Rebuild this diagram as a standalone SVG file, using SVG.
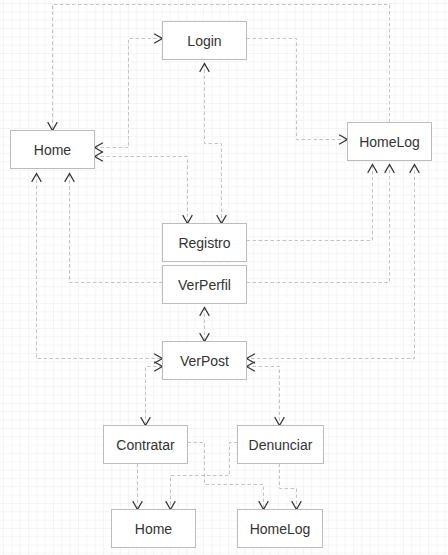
<svg xmlns="http://www.w3.org/2000/svg" width="448" height="555" viewBox="0 0 448 555">
<defs>
<pattern id="grid" patternUnits="userSpaceOnUse" x="3" y="3" width="8.333" height="8.333">
<path d="M0.5 0 V8.333 M0 0.5 H8.333" fill="none" stroke="#f4f4f4" stroke-width="1"/>
</pattern>
<marker id="arr" markerUnits="userSpaceOnUse" markerWidth="12" markerHeight="12" viewBox="-8 -5 9 10" refX="0" refY="0" orient="auto-start-reverse" overflow="visible">
<path d="M-7,-4 L0,0 L-7,4" fill="none" stroke="#333" stroke-width="1" stroke-dasharray="none"/>
</marker>
<style>
.box{fill:#fff;stroke:#bcbcbc;stroke-width:1}
.lbl{font-family:"Liberation Sans",Arial,sans-serif;font-size:14px;fill:#333;text-anchor:middle}
.c{fill:none;stroke:#c4c4c4;stroke-width:1;stroke-dasharray:3.5 2.5}
.e{marker-end:url(#arr)}
.s{marker-start:url(#arr)}
</style>
</defs>
<rect x="0" y="0" width="448" height="555" fill="#fff"/>
<rect x="0" y="0" width="448" height="555" fill="url(#grid)"/>
<g id="connectors">
<path class="c e" d="M389.5 122.5 V4.5 H52.5 V130.5"/>
<path class="c s e" d="M94.5 147.5 H128.5 V38.5 H162.5"/>
<path class="c s e" d="M94.5 156.5 H187.5 V223.5"/>
<path class="c e" d="M246.5 38.5 H296.5 V139.5 H347.5"/>
<path class="c s e" d="M204.5 63.5 V143.5 H221.5 V223.5"/>
<path class="c s e" d="M36.5 173.5 V358.5 H162.5"/>
<path class="c e" d="M162.5 282.5 H69.5 V173.5"/>
<path class="c e" d="M246.5 240.5 H372.5 V164.5"/>
<path class="c e" d="M246.5 282.5 H389.5 V164.5"/>
<path class="c s e" d="M414.5 164.5 V358.5 H246.5"/>
<path class="c s e" d="M204.5 307.5 V341.5"/>
<path class="c s e" d="M162.5 366.5 H145.5 V425.5"/>
<path class="c s e" d="M246.5 366.5 H279.5 V425.5"/>
<path class="c e" d="M187.5 442.5 H204.5 V484.5 H263.5 V509.5"/>
<path class="c e" d="M137.5 463.5 V509.5"/>
<path class="c e" d="M237.5 442.5 H229.5 V475.5 H170.5 V509.5"/>
<path class="c e" d="M279.5 463.5 V488.5 H296.5 V509.5"/>
</g>
<g id="login"><rect class="box" x="162.5" y="21.5" width="84" height="38"/><text class="lbl" x="204.5" y="46">Login</text></g>
<g id="home"><rect class="box" x="10.5" y="130.5" width="84" height="38"/><text class="lbl" x="52.5" y="155">Home</text></g>
<g id="homelog"><rect class="box" x="347.5" y="122.5" width="84" height="38"/><text class="lbl" x="389.5" y="147">HomeLog</text></g>
<g id="registro"><rect class="box" x="162.5" y="223.5" width="84" height="38"/><text class="lbl" x="204.5" y="248">Registro</text></g>
<g id="verperfil"><rect class="box" x="162.5" y="265.5" width="84" height="38"/><text class="lbl" x="204.5" y="290">VerPerfil</text></g>
<g id="verpost"><rect class="box" x="162.5" y="341.5" width="84" height="38"/><text class="lbl" x="204.5" y="366">VerPost</text></g>
<g id="contratar"><rect class="box" x="103.5" y="425.5" width="84" height="38"/><text class="lbl" x="145.5" y="450">Contratar</text></g>
<g id="denunciar"><rect class="box" x="237.5" y="425.5" width="86" height="38"/><text class="lbl" x="280.5" y="450">Denunciar</text></g>
<g id="home2"><rect class="box" x="111.5" y="509.5" width="84" height="38"/><text class="lbl" x="153.5" y="534">Home</text></g>
<g id="homelog2"><rect class="box" x="237.5" y="509.5" width="85" height="38"/><text class="lbl" x="280" y="534">HomeLog</text></g>
</svg>
